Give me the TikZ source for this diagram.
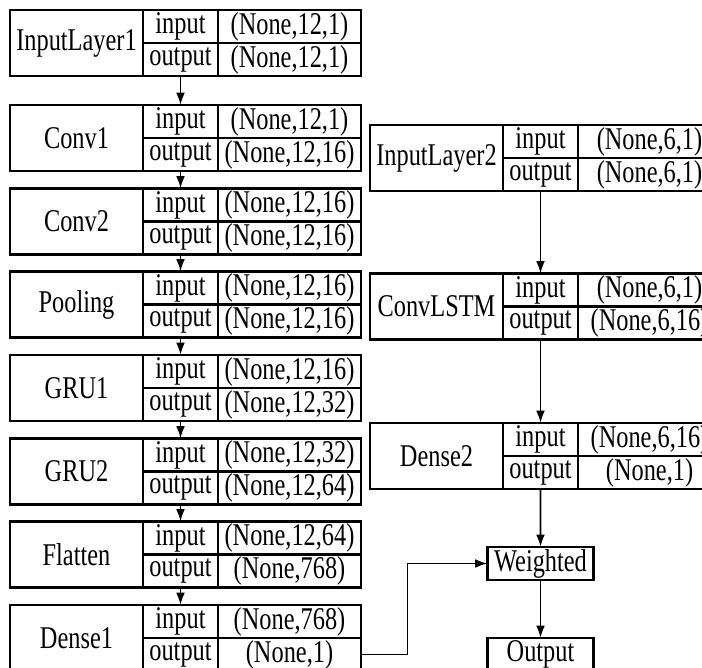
\documentclass[tikz,border=0pt]{standalone}
\usepackage{fontspec}
\setmainfont{Liberation Serif}[FakeStretch=0.77]
\usepackage{tikz}
\usetikzlibrary{positioning,calc,arrows.meta}

% layer: \layer{node name}{label}{x}{y}{input shape}{output shape}
\newcommand{\layer}[6]{%
  \node[namecell, anchor=north west] (#1) at (#3,#4) {#2};
  \node[keycell, anchor=north west] (#1-ik) at (#1.north east) {input};
  \node[valcell, anchor=north west] (#1-iv) at (#1-ik.north east) {#5};
  \node[keycell, anchor=north west] (#1-ok) at (#1-ik.south west) {output};
  \node[valcell, anchor=north west] (#1-ov) at (#1-ok.north east) {#6};
}

\begin{document}
\begin{tikzpicture}[
      font=\fontsize{18pt}{21pt}\selectfont,
      cell/.style={draw=black, line width=1.2pt, inner sep=0pt, outer sep=0pt, minimum height=0.66cm},
      namecell/.style={cell, minimum width=2.66cm, minimum height=1.32cm},
      keycell/.style={cell, minimum width=1.50cm},
      valcell/.style={cell, minimum width=2.86cm},
      plain/.style={cell, minimum width=2.12cm},
      arr/.style={draw=black, line width=1.1pt, -{Latex[length=7pt, width=5pt]}}
    ]
    \useasboundingbox (0,0) rectangle (14.04,-13.34);
    \clip (0,0) rectangle (14.04,-13.34);

    % ---- left branch: 0.02 cm per pixel ----
    \layer{in1}{InputLayer1}{0.20}{-0.20}{(None,12,1)}{(None,12,1)}
    \layer{conv1}{Conv1}{0.20}{-2.10}{(None,12,1)}{(None,12,16)}
    \layer{conv2}{Conv2}{0.20}{-3.77}{(None,12,16)}{(None,12,16)}
    \layer{pool}{Pooling}{0.20}{-5.43}{(None,12,16)}{(None,12,16)}
    \layer{gru1}{GRU1}{0.20}{-7.10}{(None,12,16)}{(None,12,32)}
    \layer{gru2}{GRU2}{0.20}{-8.77}{(None,12,32)}{(None,12,64)}
    \layer{flat}{Flatten}{0.20}{-10.43}{(None,12,64)}{(None,768)}
    \layer{dense1}{Dense1}{0.20}{-12.10}{(None,768)}{(None,1)}

    % ---- right branch ----
    \layer{in2}{InputLayer2}{7.40}{-2.50}{(None,6,1)}{(None,6,1)}
    \layer{clstm}{ConvLSTM}{7.40}{-5.47}{(None,6,1)}{(None,6,16)}
    \layer{dense2}{Dense2}{7.40}{-8.46}{(None,6,16)}{(None,1)}
    \node[plain, anchor=north] (wtd) at (10.81,-10.94) {Weighted};
    \node[plain, anchor=north] (outp) at (10.81,-12.76) {Output};

    % ---- connectors ----
    \draw[arr] (in1-ok.south) -- (conv1-ik.north);
    \draw[arr] (conv1-ok.south) -- (conv2-ik.north);
    \draw[arr] (conv2-ok.south) -- (pool-ik.north);
    \draw[arr] (pool-ok.south) -- (gru1-ik.north);
    \draw[arr] (gru1-ok.south) -- (gru2-ik.north);
    \draw[arr] (gru2-ok.south) -- (flat-ik.north);
    \draw[arr] (flat-ok.south) -- (dense1-ik.north);
    \draw[arr] (in2-ok.south) -- (clstm-ik.north);
    \draw[arr] (clstm-ok.south) -- (dense2-ik.north);
    \draw[arr] (dense2-ok.south) -- (wtd.north);
    \draw[arr] (wtd.south) -- (outp.north);
    \draw[arr] (dense1-ov.east) -- ++(0.93,0) |- (wtd.west);
  \end{tikzpicture}
\end{document}
